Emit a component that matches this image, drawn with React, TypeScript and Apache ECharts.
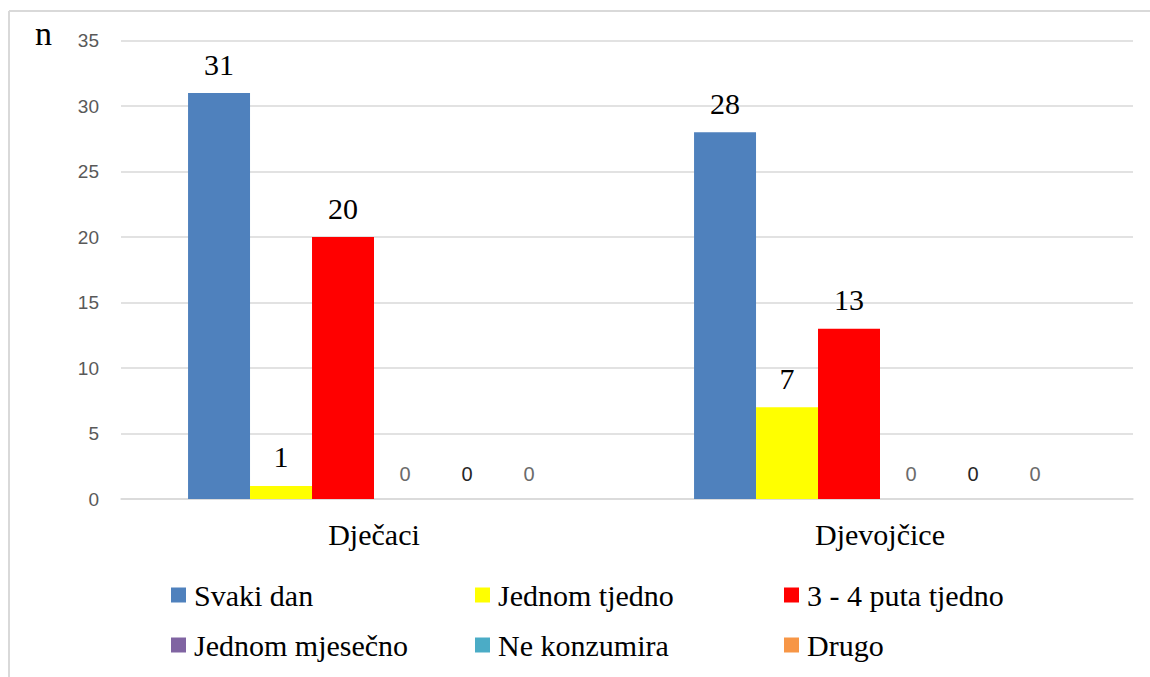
import React, { useEffect, useRef } from "react";
import * as echarts from "echarts";

const categories = ["Dječaci", "Djevojčice"];
const seriesNames = ["Svaki dan", "Jednom tjedno", "3 - 4 puta tjedno", "Jednom mjesečno", "Ne konzumira", "Drugo"];
const svakiDan = [31, 28];
const jednomTjedno = [1, 7];
const putaTjedno = [20, 13];
const jednomMjesecno = [0, 0];
const neKonzumira = [0, 0];
const drugo = [0, 0];
const yTicks = [0, 5, 10, 15, 20, 25, 30, 35];

const colors = ["#4f81bd", "#ffff00", "#ff0000", "#8064a2", "#4bacc6", "#f79646"];
const zeroLabelColors = ["#6b6b6b", "#262626", "#6b6b6b"];
const SERIF = "'Liberation Serif', 'Times New Roman', serif";
const SANS = "'Liberation Sans', Arial, sans-serif";

const fontCss = `
.chart-root svg text { font-family: 'Liberation Serif', 'Times New Roman', serif !important; }
.chart-root svg text[style*="19px"], .chart-root svg text[style*="20px"] { font-family: 'Liberation Sans', Arial, sans-serif !important; }
`;

export default function App() {
  const ref = useRef<HTMLDivElement>(null);
  useEffect(() => {
    if (!ref.current) return;
    const chart = echarts.init(ref.current, undefined, { renderer: "svg" });
    const values = [svakiDan, jednomTjedno, putaTjedno, jednomMjesecno, neKonzumira, drugo];
    const series = values.map((data, i) => ({
      name: seriesNames[i],
      type: "bar",
      data,
      barGap: "0%",
      barCategoryGap: "26.5%",
      itemStyle: { color: colors[i] },
      label: i < 3
        ? { show: true, position: "top", distance: 14, fontFamily: SERIF, fontSize: 30, color: "#000" }
        : { show: true, position: "top", distance: 15, fontFamily: SANS, fontSize: 20, color: zeroLabelColors[i - 3] },
    }));
    const legendCol = (names: string[], left: number) => ({
      show: true,
      orient: "vertical",
      left,
      top: 575,
      itemWidth: 15,
      itemHeight: 15,
      itemGap: 20,
      icon: "rect",
      data: names,
      textStyle: { fontFamily: SERIF, fontSize: 30, color: "#000", lineHeight: 30, padding: [0, 0, 0, 3] },
    });
    chart.setOption({
      animation: false,
      textStyle: { fontFamily: SERIF },
      grid: { left: 121, right: 17, top: 40.7, bottom: 178, containLabel: false },
      legend: [
        legendCol([seriesNames[0], seriesNames[3]], 166),
        legendCol([seriesNames[1], seriesNames[4]], 470),
        legendCol([seriesNames[2], seriesNames[5]], 779),
      ],
      xAxis: {
        type: "category",
        data: categories,
        axisLine: { show: true, lineStyle: { color: "#d9d9d9", width: 1.5 } },
        axisTick: { show: false },
        axisLabel: { fontFamily: SERIF, fontSize: 30, color: "#000", margin: 20 },
      },
      yAxis: {
        type: "value",
        min: yTicks[0],
        max: yTicks[yTicks.length - 1],
        interval: 5,
        axisLine: { show: false },
        axisTick: { show: false },
        splitLine: { lineStyle: { color: "#d9d9d9", width: 1.5 } },
        axisLabel: { fontFamily: SANS, fontSize: 19, color: "#595959", margin: 22 },
      },
      graphic: [
        { type: "line", shape: { x1: 9, y1: 11, x2: 1150, y2: 11 }, style: { stroke: "#d9d9d9", lineWidth: 2 } },
        { type: "line", shape: { x1: 9, y1: 11, x2: 9, y2: 677 }, style: { stroke: "#d9d9d9", lineWidth: 2 } },
        { type: "text", x: 43.5, y: 33, style: { text: "n", fontFamily: SERIF, fontSize: 34, fill: "#000", textAlign: "center", textVerticalAlign: "middle" } },
      ],
      series,
    });
    return () => chart.dispose();
  }, []);
  return (
    <>
      <style>{fontCss}</style>
      <div className="chart-root" ref={ref} style={{ width: 1150, height: 677, position: "absolute", left: 0, top: 0 }} />
    </>
  );
}
